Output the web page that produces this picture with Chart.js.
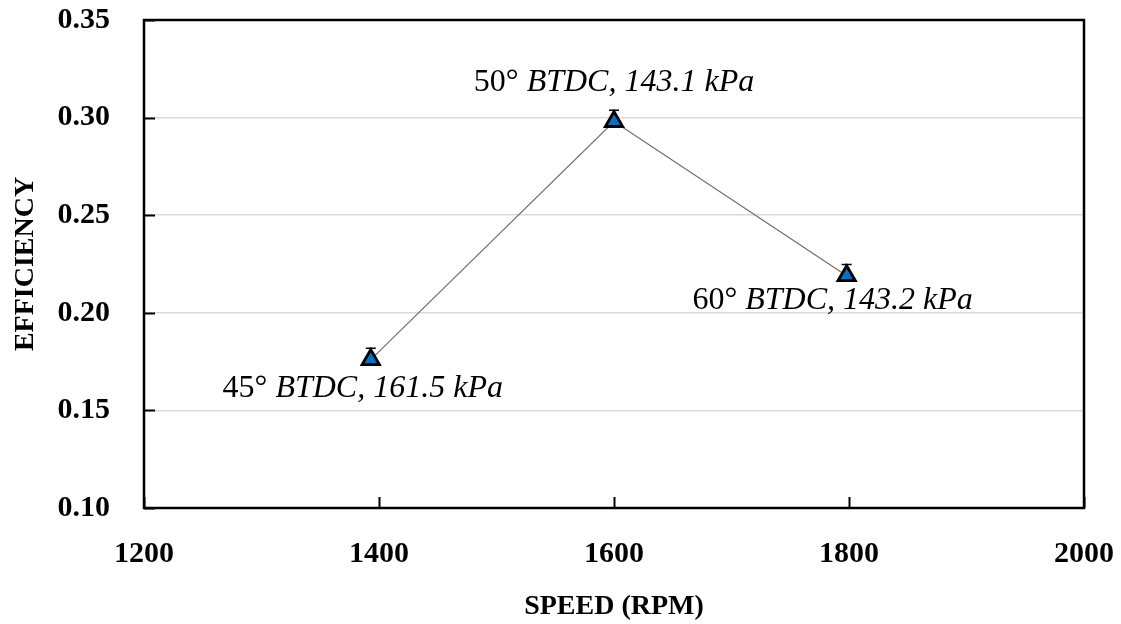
<!DOCTYPE html>
<html>
<head>
<meta charset="utf-8">
<script src="https://cdn.jsdelivr.net/npm/chart.js@4/dist/chart.umd.min.js"></script>
<style>
  html, body { margin: 0; padding: 0; background: #ffffff; }
  #wrap { width: 1121px; height: 624px; position: relative; }
</style>
</head>
<body>
<div id="wrap"><canvas id="c" width="1121" height="624"></canvas></div>
<script>
// ---- data ----
const speeds = [1393, 1600, 1798];
const efficiency = [0.176, 0.298, 0.219];
const errorPlus = [0.0058, 0.0058, 0.0058];
const timingLabels = ['45°', '50°', '60°'];
const detailLabels = [' BTDC, 161.5 kPa', ' BTDC, 143.1 kPa', ' BTDC, 143.2 kPa'];
const xTickValues = [1200, 1400, 1600, 1800, 2000];
const yTickValues = [0.10, 0.15, 0.20, 0.25, 0.30, 0.35];
const xTitle = 'SPEED (RPM)';
const yTitle = 'EFFICIENCY';

// label offsets from their point (pixels)
const labelOffsets = [[-8, 29], [0, -39], [-14, 25]];

const SERIF = '"Liberation Serif", "DejaVu Serif", serif';

function noPad(scale) {
  scale.paddingTop = 0; scale.paddingBottom = 0;
  scale.paddingLeft = 0; scale.paddingRight = 0;
}

const framePlugin = {
  id: 'frame',
  beforeDatasetsDraw(chart) {
    const { ctx, scales } = chart;
    ctx.save();
    ctx.strokeStyle = '#000';
    ctx.lineWidth = 1.5;
    speeds.forEach((s, i) => {
      const x = scales.x.getPixelForValue(s);
      const yc = scales.y.getPixelForValue(efficiency[i]);
      const yt = scales.y.getPixelForValue(efficiency[i] + errorPlus[i]);
      ctx.beginPath();
      ctx.moveTo(x, yt); ctx.lineTo(x, yc);
      ctx.moveTo(x - 5, yt); ctx.lineTo(x + 5, yt);
      ctx.stroke();
    });
    ctx.restore();
  },
  afterDatasetsDraw(chart) {
    const { ctx, chartArea: a, scales } = chart;
    ctx.save();
    ctx.strokeStyle = '#000';
    ctx.lineWidth = 2.5;
    ctx.strokeRect(a.left, a.top, a.right - a.left, a.bottom - a.top);
    ctx.lineWidth = 2;
    yTickValues.forEach(v => {
      const y = Math.round(scales.y.getPixelForValue(v)) + 0.5;
      ctx.beginPath(); ctx.moveTo(a.left, y); ctx.lineTo(a.left + 11, y); ctx.stroke();
    });
    xTickValues.forEach(v => {
      const x = Math.round(scales.x.getPixelForValue(v)) + 0.5;
      ctx.beginPath(); ctx.moveTo(x, a.bottom); ctx.lineTo(x, a.bottom - 11); ctx.stroke();
    });
    const normalFont = '32px ' + SERIF;
    const italicFont = 'italic 32px ' + SERIF;
    ctx.fillStyle = '#000';
    ctx.textBaseline = 'middle';
    ctx.textAlign = 'left';
    speeds.forEach((s, i) => {
      const px = scales.x.getPixelForValue(s) + labelOffsets[i][0];
      const py = scales.y.getPixelForValue(efficiency[i]) + labelOffsets[i][1];
      ctx.font = normalFont;
      const w1 = ctx.measureText(timingLabels[i]).width;
      ctx.font = italicFont;
      const w2 = ctx.measureText(detailLabels[i]).width;
      const x0 = px - (w1 + w2) / 2;
      ctx.font = normalFont;
      ctx.fillText(timingLabels[i], x0, py);
      ctx.font = italicFont;
      ctx.fillText(detailLabels[i], x0 + w1, py);
    });
    ctx.restore();
  }
};

new Chart(document.getElementById('c'), {
  type: 'scatter',
  data: {
    datasets: [{
      data: speeds.map((s, i) => ({ x: s, y: efficiency[i] })),
      showLine: true,
      borderColor: '#6f6f6f',
      borderWidth: 1.2,
      pointStyle: 'triangle',
      pointRadius: 10,
      pointHoverRadius: 10,
      pointBackgroundColor: '#0a6fc2',
      pointBorderColor: '#000',
      pointBorderWidth: 2.8
    }]
  },
  options: {
    responsive: false,
    animation: false,
    devicePixelRatio: 1,
    layout: { padding: { left: 0, right: 37, top: 20, bottom: 0 } },
    plugins: { legend: { display: false }, tooltip: { enabled: false } },
    scales: {
      x: {
        type: 'linear',
        min: 1200, max: 2000,
        afterBuildTicks(scale) { scale.ticks = xTickValues.map(v => ({ value: v })); },
        afterFit(scale) { scale.height = 116; noPad(scale); },
        grid: { display: false, drawTicks: false },
        border: { display: false },
        ticks: {
          padding: 28,
          color: '#000',
          maxRotation: 0,
          font: { family: SERIF, size: 30, weight: 'bold' },
          callback: v => String(v)
        },
        title: {
          display: true, text: xTitle, color: '#000',
          font: { family: SERIF, size: 28, weight: 'bold' },
          padding: { top: 0, bottom: 0 }
        }
      },
      y: {
        type: 'linear',
        min: 0.10, max: 0.35,
        afterBuildTicks(scale) { scale.ticks = yTickValues.map(v => ({ value: v })); },
        afterFit(scale) { scale.width = 144; noPad(scale); },
        grid: {
          drawTicks: false,
          lineWidth: 1.5,
          color: ctx => (ctx.tick && (Math.abs(ctx.tick.value - 0.10) < 1e-9 || Math.abs(ctx.tick.value - 0.35) < 1e-9)) ? 'rgba(0,0,0,0)' : '#d9d9d9'
        },
        border: { display: false },
        ticks: {
          padding: 34,
          color: '#000',
          font: { family: SERIF, size: 30, weight: 'bold' },
          callback: v => Number(v).toFixed(2)
        },
        title: {
          display: true, text: yTitle, color: '#000',
          font: { family: SERIF, size: 28, weight: 'bold' },
          padding: { top: 9, bottom: 0 }
        }
      }
    }
  },
  plugins: [framePlugin]
});
</script>
</body>
</html>
